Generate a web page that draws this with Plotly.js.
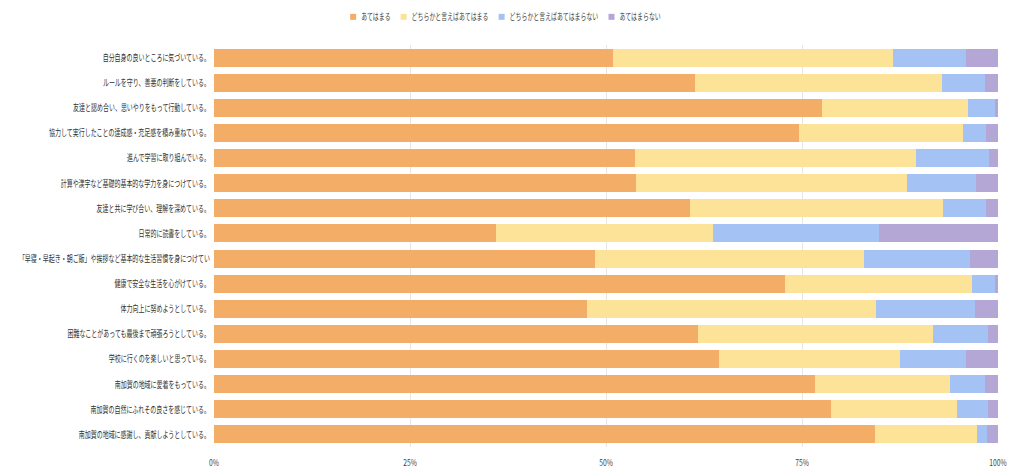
<!DOCTYPE html>
<html>
<head>
<meta charset="utf-8">
<script src="https://cdn.plot.ly/plotly-3.0.1.min.js"></script>
<style>
  html, body { margin: 0; padding: 0; background: #ffffff; }
  #chart { width: 1009px; height: 470px; }
</style>
</head>
<body>
<div id="chart"></div>
<script>
// Survey items (top to bottom)
const items = [
  "自分自身の良いところに気づいている。",
  "ルールを守り、善悪の判断をしている。",
  "友達と認め合い、思いやりをもって行動している。",
  "協力して実行したことの達成感・充足感を積み重ねている。",
  "進んで学習に取り組んでいる。",
  "計算や漢字など基礎的基本的な学力を身につけている。",
  "友達と共に学び合い、理解を深めている。",
  "日常的に読書をしている。",
  "「早寝・早起き・朝ご飯」や挨拶など基本的な生活習慣を身につけてい",
  "健康で安全な生活を心がけている。",
  "体力向上に努めようとしている。",
  "困難なことがあっても最後まで頑張ろうとしている。",
  "学校に行くのを楽しいと思っている。",
  "南加賀の地域に愛着をもっている。",
  "南加賀の自然にふれその良さを感じている。",
  "南加賀の地域に感謝し、貢献しようとしている。"
];

// Response shares (%)
const atehamaru             = [50.9, 61.4, 77.6, 74.6, 53.7, 53.8, 60.7, 36.0, 48.6, 72.8, 47.6, 61.7, 64.4, 76.7, 78.7, 84.3];
const dochirakaAtehamaru    = [35.7, 31.5, 18.6, 20.9, 35.8, 34.6, 32.3, 27.6, 34.3, 23.9, 36.8, 30.0, 23.1, 17.2, 16.1, 13.0];
const dochirakaAtehamaranai = [9.3, 5.4, 3.4, 3.0, 9.3, 8.8, 5.5, 21.2, 13.5, 2.9, 12.7, 7.0, 8.4, 4.4, 3.9, 1.3];
const atehamaranai          = [4.1, 1.7, 0.4, 1.5, 1.2, 2.8, 1.5, 15.2, 3.6, 0.4, 2.9, 1.3, 4.1, 1.7, 1.3, 1.4];

const seriesNames = ["あてはまる", "どちらかと言えばあてはまる", "どちらかと言えばあてはまらない", "あてはまらない"];
const seriesValues = [atehamaru, dochirakaAtehamaru, dochirakaAtehamaranai, atehamaranai];
const seriesColors = ["#f4ad66", "#fde398", "#a4c2f4", "#b4a7d6"];

const xTickVals = [0, 25, 50, 75, 100];
const xTickText = ["0%", "25%", "50%", "75%", "100%"];

const traces = seriesValues.map((vals, i) => ({
  type: "bar",
  orientation: "h",
  name: seriesNames[i],
  x: vals,
  y: items,
  marker: { color: seriesColors[i], line: { width: 0 } },
  hoverinfo: "skip"
}));

const font = "'Noto Sans CJK JP', 'Noto Sans', sans-serif";

const layout = {
  width: 1009,
  height: 470,
  barmode: "stack",
  bargap: 0.28,
  paper_bgcolor: "#ffffff",
  plot_bgcolor: "#ffffff",
  margin: { l: 214, r: 11, t: 45, b: 23 },
  font: { family: font, size: 9, color: "#444444" },
  showlegend: true,
  legend: {
    orientation: "h",
    x: 0.5, xanchor: "center",
    y: 0.995, yanchor: "top",
    yref: "container",
    font: { family: font, size: 9, color: "#444444" },
    itemwidth: 30,
    traceorder: "normal",
    bgcolor: "rgba(0,0,0,0)"
  },
  xaxis: {
    range: [0, 100.0001],
    tickvals: xTickVals,
    ticktext: xTickText,
    showgrid: true,
    gridcolor: "#e6e6e6",
    gridwidth: 1,
    zeroline: false,
    showline: false,
    ticks: "",
    ticklabelstandoff: 9,
    ticklabeloverflow: "allow",
    tickfont: { family: font, size: 9, color: "#444444" },
    fixedrange: true
  },
  yaxis: {
    autorange: "reversed",
    type: "category",
    showgrid: false,
    zeroline: false,
    ticks: "",
    ticklabelstandoff: 3,
    tickfont: { family: font, size: 9.5, color: "#333333" },
    fixedrange: true
  }
};

// Narrow a text element horizontally about a point of its own box
// (where: 0 = left edge, 0.5 = centre, 1 = right edge)
function condense(el, s, where) {
  const b = el.getBBox();
  const ax = b.x + b.width * where;
  const prev = el.getAttribute("transform") || "";
  el.setAttribute("transform", `${prev} translate(${ax},0) scale(${s},1) translate(${-ax},0)`);
}

Plotly.newPlot("chart", traces, layout, { displayModeBar: false, staticPlot: true }).then(gd => {
  // condensed axis labels
  gd.querySelectorAll(".yaxislayer-above .ytick text").forEach(t => condense(t, 0.63, 1));
  gd.querySelectorAll(".xaxislayer-above .xtick text").forEach(t => condense(t, 0.75, 0.5));

  // compact legend: small swatch, condensed text, tight spacing
  const sb = gd.querySelector(".legend .scrollbox");
  if (sb) sb.removeAttribute("clip-path");
  const groups = Array.from(gd.querySelectorAll(".legend .traces"));
  const swatchX = 20, half = 3, textX = 28, sc = 0.66, after = 10;
  const lens = [];
  groups.forEach(g => {
    const path = g.querySelector(".legendpoints path");
    if (path) path.setAttribute("transform", `translate(${swatchX},0) scale(${half / 6})`);
    const txt = g.querySelector("text.legendtext");
    txt.setAttribute("x", textX);
    lens.push(txt.getComputedTextLength() * sc);
    condense(txt, sc, 0);
  });
  // step from one item's start to the next
  const steps = lens.map(L => textX + L + after - (swatchX - half));
  const span = steps.slice(0, -1).reduce((a, b) => a + b, 0) + (textX - (swatchX - half)) + lens[lens.length - 1];
  const legend = gd.querySelector(".legend");
  const m = /translate\(([-\d.]+)[ ,]+([-\d.]+)\)/.exec(legend.getAttribute("transform") || "");
  const lx = m ? parseFloat(m[1]) : 0;
  let cur = 505.5 - span / 2 - (swatchX - half) - lx;
  groups.forEach((g, i) => {
    const mm = /translate\(([-\d.]+)[ ,]+([-\d.]+)\)/.exec(g.getAttribute("transform") || "");
    const y = mm ? parseFloat(mm[2]) : 0;
    g.setAttribute("transform", `translate(${cur},${y})`);
    cur += steps[i];
  });
});
</script>
</body>
</html>
